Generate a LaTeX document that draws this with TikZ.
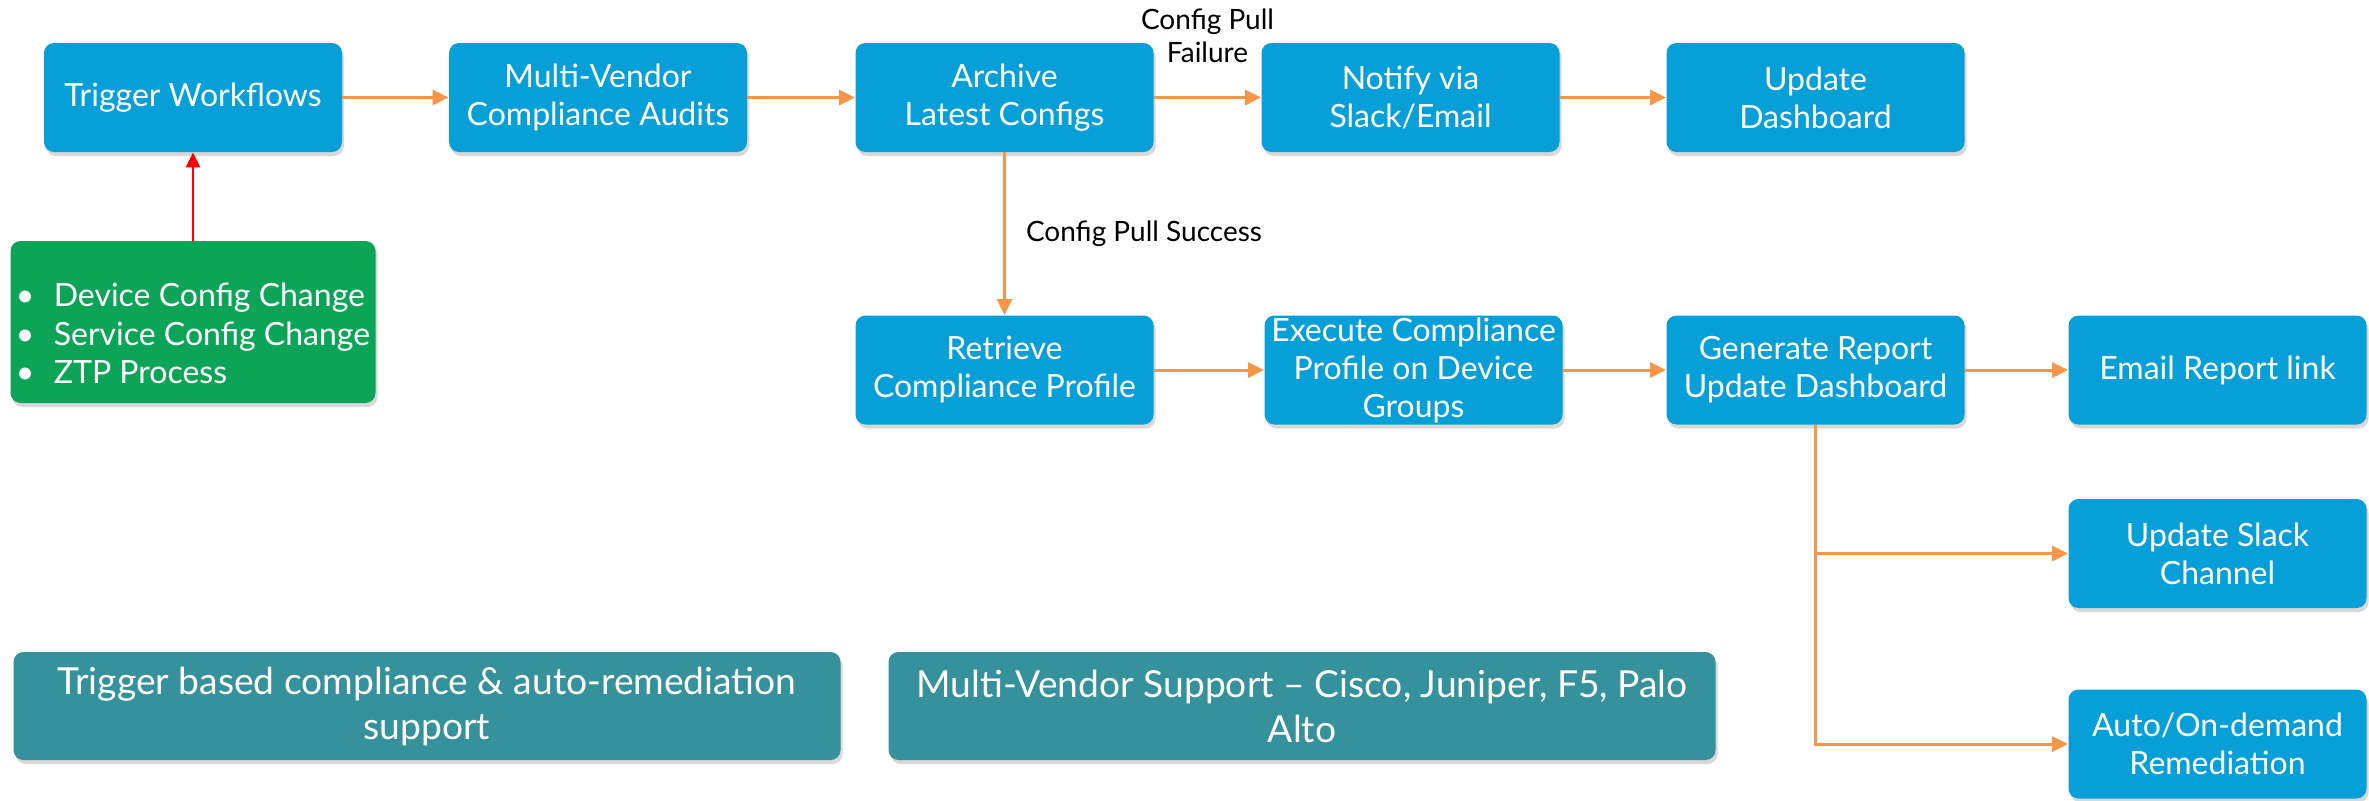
\documentclass[tikz,border=0pt]{standalone}
\usepackage{fontspec}
\setmainfont{Lato}
\usepackage{tikz}
\usetikzlibrary{arrows.meta, positioning, shadows}

\definecolor{taskblue}{RGB}{7,159,216}
\definecolor{srcgreen}{RGB}{12,165,87}
\definecolor{noteteal}{RGB}{53,145,155}
\definecolor{floworange}{RGB}{247,150,70}

\tikzset{
	taskbox/.style = {rectangle, rounded corners=5pt, fill=taskblue, text=white,
		minimum width=149pt, minimum height=54.5pt, inner sep=0pt, align=center,
		font=\fontsize{16}{19}\selectfont,
		drop shadow={opacity=0.3, shadow xshift=1pt, shadow yshift=-2pt}},
	srcbox/.style = {taskbox, fill=srcgreen, minimum width=182.5pt, minimum height=81pt,
		font=\fontsize{16}{19.25}\selectfont},
	notebox/.style = {taskbox, fill=noteteal, minimum width=413.5pt, minimum height=54pt,
		font=\fontsize{18.6}{22.5}\selectfont},
	flow/.style = {draw=floworange, line width=1.5pt, -{Triangle[length=8pt,width=7.5pt]}},
	trigflow/.style = {draw=red, line width=1.25pt, -{Triangle[length=7.5pt,width=7pt]}},
	lbl/.style = {text=black, inner sep=0pt, align=center, font=\fontsize{14}{16.5}\selectfont}
}

\begin{document}
\begin{tikzpicture}[x=0.5pt, y=-0.5pt]
	\fill[white] (0,0) rectangle (2369,800);
	\useasboundingbox (0,0) rectangle (2369,800);

	\node[taskbox] (trig) at (193,97.5) {Trigger Workflows};
	\node[taskbox] (audit) at (598,97.5) {Multi-Vendor\\Compliance Audits};
	\node[taskbox] (arch) at (1004.5,97.5) {Archive\\Latest Configs};
	\node[taskbox] (notify) at (1410.5,97.5) {Notify via\\Slack/Email};
	\node[taskbox] (dash) at (1815.5,97.5) {Update\\Dashboard};

	\node[srcbox] (src) at (193,322) {\begin{tabular}{@{}l@{}}
			\rule{0pt}{29pt}\makebox[19pt][l]{\textbullet}Device Config Change\\
			\makebox[19pt][l]{\textbullet}Service Config Change\\
			\makebox[19pt][l]{\textbullet}ZTP Process
		\end{tabular}};

	\node[taskbox] (prof) at (1004.5,370) {Retrieve\\Compliance Profile};
	\node[taskbox] (exec) at (1413.5,370) {Execute Compliance\\Profile on Device\\Groups};
	\node[taskbox] (rep) at (1815.5,370) {Generate Report\\Update Dashboard};
	\node[taskbox] (mail) at (2217.5,370) {Email Report link};
	\node[taskbox] (slack) at (2217.5,553.5) {Update Slack\\Channel};
	\node[taskbox] (remed) at (2217.5,744) {Auto/On-demand\\Remediation};

	\node[notebox] (note1) at (427,706) {Trigger based compliance \& auto-remediation\\support};
	\node[notebox] (note2) at (1302,706) {Multi-Vendor Support -- Cisco, Juniper, F5, Palo\\Alto};

	\draw[trigflow] (src) -- (trig);
	\draw[flow] (trig) -- (audit);
	\draw[flow] (audit) -- (arch);
	\draw[flow] (arch) -- node[lbl, midway, yshift=31pt] {Config Pull\\Failure} (notify);
	\draw[flow] (notify) -- (dash);
	\draw[flow] (arch) -- node[lbl, midway, anchor=west, xshift=10pt] {Config Pull Success} (prof);
	\draw[flow] (prof) -- (exec);
	\draw[flow] (exec) -- (rep);
	\draw[flow] (rep) -- (mail);
	\draw[flow] (rep.south) |- (slack.west);
	\draw[flow] (rep.south) |- (remed.west);
\end{tikzpicture}
\end{document}
